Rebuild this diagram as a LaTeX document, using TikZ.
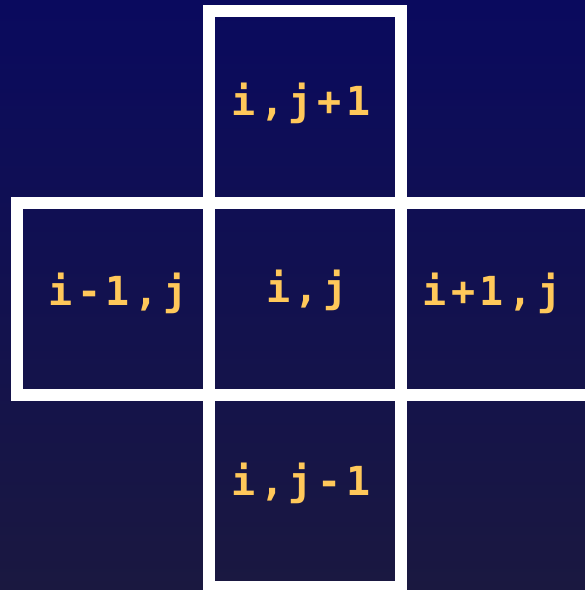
\documentclass[tikz,border=0pt]{standalone}
\usepackage{fontspec}
\newfontfamily\cellfont[LetterSpace=12]{DejaVu Sans Mono Bold}
\definecolor{bgtop}{RGB}{10,10,94}
\definecolor{bgbot}{RGB}{26,24,64}
\definecolor{labelcol}{RGB}{255,200,90}
\begin{document}
\begin{tikzpicture}[x=1pt,y=-1pt,
  cellbox/.style={draw=white,line width=12pt,minimum width=192pt,minimum height=192pt,inner sep=0pt,outer sep=0pt},
  celltext/.style={text=labelcol,font=\cellfont\fontsize{40}{40}\selectfont,anchor=base,inner sep=0pt}]
\shade[top color=bgtop,bottom color=bgbot] (0,0) rectangle (585,590);
\useasboundingbox (0,0) rectangle (585,590);
\begin{scope}
\clip (0,0) rectangle (585,590);
\node[cellbox] (top) at (305,107) {};
\node[cellbox] (left) at (113,299) {};
\node[cellbox] (mid) at (305,299) {};
\node[cellbox] (right) at (497,299) {};
\node[cellbox] (bot) at (305,491) {};
\end{scope}
\node[celltext] (ttop) at (301,115) {i,j+1};
\node[celltext] (tleft) at (118,305) {i-1,j};
\node[celltext] (tmid) at (307,302) {i,j};
\node[celltext] (tright) at (492,305) {i+1,j};
\node[celltext] (tbot) at (301,495) {i,j-1};
\end{tikzpicture}
\end{document}
